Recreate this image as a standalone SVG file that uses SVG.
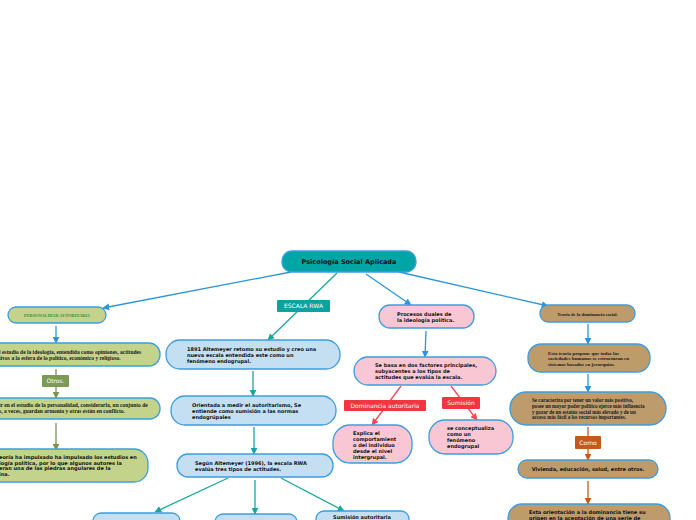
<svg xmlns="http://www.w3.org/2000/svg" width="696" height="520" viewBox="0 0 696 520">
<defs>
<style>
.n{stroke:#3b9de0;stroke-width:1.3}
.root{fill:#00a6a6}
.blue{fill:#c4def2}
.pink{fill:#f9c7d3}
.olive{fill:#c4d38c}
.tan{fill:#bd9b6b}
.s{font-family:"DejaVu Sans",Verdana,sans-serif;font-weight:bold;font-size:5px;fill:#111}
.sf{font-family:"Liberation Serif","Times New Roman",serif;font-weight:bold;font-size:5px;fill:#1a1a1a}
.lbl{font-family:"DejaVu Sans",Verdana,sans-serif;font-size:6px;fill:#fff;text-anchor:middle}
.c{fill:none;stroke-width:1.3}
.cb{stroke:#2b95dc}.ct{stroke:#16a8a0}.cr{stroke:#f04a52}.co{stroke:#7b9250}.cn{stroke:#c65a1e}
</style>
<marker id="ab" viewBox="0 0 10 10" refX="9" refY="5" markerWidth="7" markerHeight="7" markerUnits="userSpaceOnUse" orient="auto"><path d="M0,0L10,5L0,10z" fill="#2b95dc"/></marker>
<marker id="at" viewBox="0 0 10 10" refX="9" refY="5" markerWidth="7" markerHeight="7" markerUnits="userSpaceOnUse" orient="auto"><path d="M0,0L10,5L0,10z" fill="#16a8a0"/></marker>
<marker id="ar" viewBox="0 0 10 10" refX="9" refY="5" markerWidth="7" markerHeight="7" markerUnits="userSpaceOnUse" orient="auto"><path d="M0,0L10,5L0,10z" fill="#f04a52"/></marker>
<marker id="ao" viewBox="0 0 10 10" refX="9" refY="5" markerWidth="7" markerHeight="7" markerUnits="userSpaceOnUse" orient="auto"><path d="M0,0L10,5L0,10z" fill="#7b9250"/></marker>
<marker id="an" viewBox="0 0 10 10" refX="9" refY="5" markerWidth="7" markerHeight="7" markerUnits="userSpaceOnUse" orient="auto"><path d="M0,0L10,5L0,10z" fill="#c65a1e"/></marker>
</defs>
<rect width="696" height="520" fill="#fff"/>

<g id="connectors">
<path class="c cb" d="M291,272 L103,308" marker-end="url(#ab)"/>
<path class="c ct" d="M337,273 L268,340" marker-end="url(#at)"/>
<path class="c cb" d="M366,274 L411,305" marker-end="url(#ab)"/>
<path class="c cb" d="M399,272 L548,306" marker-end="url(#ab)"/>
<path class="c cb" d="M56,326 L56,343" marker-end="url(#ab)"/>
<path class="c co" d="M56,369 L56,398" marker-end="url(#ao)"/>
<path class="c co" d="M56,423 L56,450" marker-end="url(#ao)"/>
<path class="c ct" d="M253,371 L253,396" marker-end="url(#at)"/>
<path class="c ct" d="M254,427 L254,454" marker-end="url(#at)"/>
<path class="c ct" d="M228,478 L155,512" marker-end="url(#at)"/>
<path class="c ct" d="M255,480 L255,514" marker-end="url(#at)"/>
<path class="c ct" d="M281,478 L344,511" marker-end="url(#at)"/>
<path class="c cb" d="M426,331 L425,357" marker-end="url(#ab)"/>
<path class="c cr" d="M401,386 L372,425" marker-end="url(#ar)"/>
<path class="c cr" d="M451,386 L477,420" marker-end="url(#ar)"/>
<path class="c cb" d="M588,324 L588,344" marker-end="url(#ab)"/>
<path class="c cb" d="M588,374 L588,392" marker-end="url(#ab)"/>
<path class="c cn" d="M588,427 L588,460" marker-end="url(#an)"/>
<path class="c cn" d="M588,481 L588,504" marker-end="url(#an)"/>
<g id="lbl-escala"><rect x="277" y="300" width="53" height="12" rx="1" fill="#0aa39f"/><text class="lbl" x="303.5" y="308.3">ESCALA RWA</text></g>
<g id="lbl-otros"><rect x="42" y="375" width="27" height="12" rx="1" fill="#7a9a55"/><text class="lbl" x="55.5" y="383.3">Otros.</text></g>
<g id="lbl-dominancia"><rect x="344" y="400" width="82" height="11" rx="1" fill="#f2353f"/><text class="lbl" x="385" y="407.8">Dominancia autoritaria</text></g>
<g id="lbl-sumision"><rect x="442" y="397" width="38" height="12" rx="1" fill="#f2353f"/><text class="lbl" x="461" y="405.3">Sumisión</text></g>
<g id="lbl-como"><rect x="575" y="436" width="26" height="13" rx="1" fill="#c55a20"/><text class="lbl" x="588" y="444.8">Como</text></g>
</g>

<g id="root"><rect class="n root" x="282" y="251" width="134" height="21" rx="10"/><text class="s" x="349" y="264" text-anchor="middle" style="font-size:6.5px">Psicología Social Aplicada</text></g>

<g id="personalidad"><rect class="n olive" x="8" y="307" width="98" height="16" rx="8"/><text x="57" y="317" text-anchor="middle" style="font-family:'Liberation Serif',serif;font-weight:bold;font-size:4.3px;fill:#2f8f3f">PERSONALIDAD AUTORITARIA</text></g>
<g id="ideologia"><rect class="n olive" x="-20" y="343" width="180" height="23" rx="11"/><text class="sf" style="font-size:5.5px"><tspan x="-1" y="354">l estudio de la ideología, entendida como opiniones, actitudes</tspan><tspan x="-1" y="360">tivos a la esfera de lo político, económico y religioso.</tspan></text></g>
<g id="personalidad2"><rect class="n olive" x="-20" y="398" width="180" height="21" rx="10"/><text class="sf" style="font-size:5.5px"><tspan x="-1" y="407">ir en el estudio de la personalidad, considerarla, un conjunto de</tspan><tspan x="-1" y="413">s, a veces, guardan armonía y otras están en conflicto.</tspan></text></g>
<g id="teoria-impulso"><rect class="n olive" x="-20" y="449" width="168" height="33" rx="14"/><text class="s"><tspan x="-1" y="459">eoría ha impulsado ha impulsado los estudios en</tspan><tspan x="-1" y="464.5">logía política, por lo que algunos autores la</tspan><tspan x="-1" y="470">eran una de las piedras angulares de la</tspan><tspan x="-1" y="475.5">ina.</tspan></text></g>

<g id="altemeyer1891"><rect class="n blue" x="166" y="340" width="174" height="29" rx="14"/><text class="s"><tspan x="187" y="351">1891 Altemeyer retomo su estudio y creo una</tspan><tspan x="187" y="357">nueva escala entendida este como un</tspan><tspan x="187" y="363">fenómeno endogrupal.</tspan></text></g>
<g id="orientada"><rect class="n blue" x="171" y="396" width="165" height="29" rx="14"/><text class="s"><tspan x="192" y="407">Orientada a medir el autoritarismo, Se</tspan><tspan x="192" y="413">entiende como sumisión a las normas</tspan><tspan x="192" y="419">endogrúpales</tspan></text></g>
<g id="segun"><rect class="n blue" x="177" y="454" width="156" height="23" rx="11"/><text class="s"><tspan x="195" y="464.5">Según Altemeyer (1996), la escala RWA</tspan><tspan x="195" y="470.5">evalúa tres tipos de actitudes.</tspan></text></g>
<g id="tipo1"><rect class="n blue" x="93" y="513" width="87" height="20" rx="8"/></g>
<g id="tipo2"><rect class="n blue" x="215" y="514" width="82" height="20" rx="8"/></g>
<g id="tipo3"><rect class="n blue" x="316" y="511" width="93" height="22" rx="8"/><text class="s" x="362" y="518.5" text-anchor="middle">Sumisión autoritaria</text></g>

<g id="procesos"><rect class="n pink" x="379" y="305" width="95" height="23" rx="11"/><text class="s"><tspan x="397" y="316">Procesos duales de</tspan><tspan x="397" y="322">la ideología política.</tspan></text></g>
<g id="sebasa"><rect class="n pink" x="354" y="357" width="142" height="28" rx="14"/><text class="s"><tspan x="375" y="367">Se basa en dos factores principales,</tspan><tspan x="375" y="373">subyacentes a los tipos de</tspan><tspan x="375" y="379">actitudes que evalúa la escala.</tspan></text></g>
<g id="explica"><rect class="n pink" x="333" y="425" width="79" height="38" rx="17"/><text class="s"><tspan x="353" y="434.5">Explica el</tspan><tspan x="353" y="440.5">comportamient</tspan><tspan x="353" y="446.5">o del individuo</tspan><tspan x="353" y="452.5">desde el nivel</tspan><tspan x="353" y="458.5">intergrupal.</tspan></text></g>
<g id="conceptualiza"><rect class="n pink" x="429" y="420" width="84" height="34" rx="16"/><text class="s"><tspan x="447" y="430">se conceptualiza</tspan><tspan x="447" y="436">como un</tspan><tspan x="447" y="442">fenómeno</tspan><tspan x="447" y="448">endogrupal</tspan></text></g>

<g id="dominancia-social"><rect class="n tan" x="540" y="305" width="95" height="17" rx="8"/><text class="sf" x="587.5" y="315.5" text-anchor="middle" style="font-size:4.6px">Teoría de la dominancia social.</text></g>
<g id="propone"><rect class="n tan" x="528" y="344" width="122" height="28" rx="13"/><text class="sf"><tspan x="548" y="354.5">Esta teoría propone que todas las</tspan><tspan x="548" y="360">sociedades humanas se estructuran en</tspan><tspan x="548" y="365.5">sistemas basados en jerarquías.</tspan></text></g>
<g id="caracteriza"><rect class="n tan" x="510" y="392" width="156" height="33" rx="16"/><text class="sf" style="font-size:5.1px"><tspan x="532" y="402">Se caracteriza por tener un valor más positivo,</tspan><tspan x="532" y="407.8">posee un mayor poder político ejerce más influencia</tspan><tspan x="532" y="413.6">y gozar de un estatus social más elevado y de un</tspan><tspan x="532" y="419.4">acceso más fácil a los recursos importantes.</tspan></text></g>
<g id="vivienda"><rect class="n tan" x="518" y="460" width="140" height="18" rx="9"/><text class="s" x="588" y="471" text-anchor="middle">Vivienda, educación, salud, entre otros.</text></g>
<g id="orientacion"><rect class="n tan" x="508" y="504" width="162" height="30" rx="14"/><text class="s"><tspan x="529" y="513.5">Esta orientación a la dominancia tiene su</tspan><tspan x="529" y="519.5">origen en la aceptación de una serie de</tspan></text></g>
</svg>
